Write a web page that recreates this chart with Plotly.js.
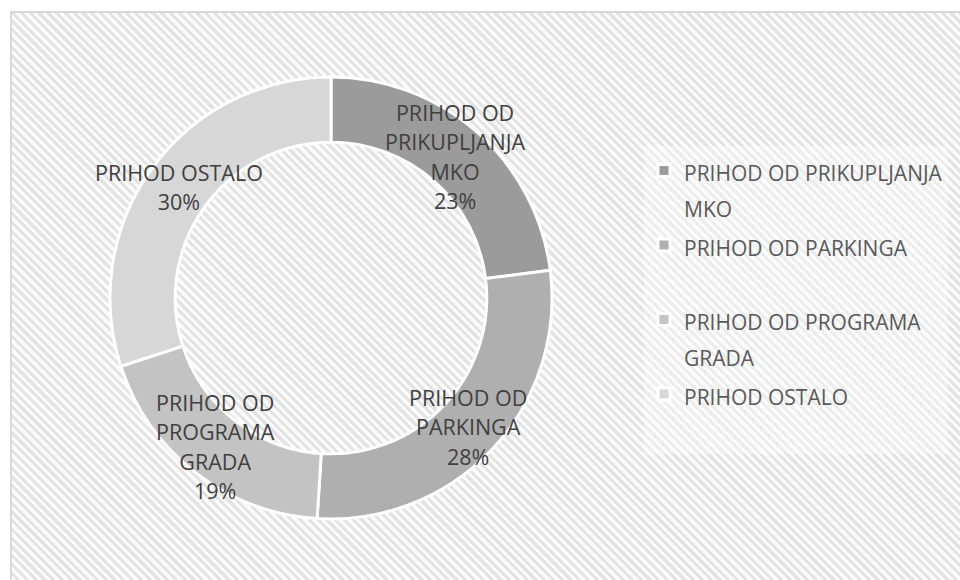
<!DOCTYPE html>
<html>
<head>
<meta charset="utf-8">
<script src="https://cdn.plot.ly/plotly-3.0.1.min.js"></script>
<style>
  html, body { margin: 0; padding: 0; background: #ffffff; }
  #frame {
    position: absolute; left: 10px; top: 11px; width: 948px; height: 567px;
    border-left: 2px solid #d9d9d9; border-top: 2px solid #d9d9d9;
    background: repeating-linear-gradient(45deg, #fbfbfb 0px, #fbfbfb 3.2px, #e3e3e3 3.2px, #e3e3e3 6.2px);
  }
  #chart { position: absolute; left: 0; top: 0; width: 960px; height: 580px; }
</style>
</head>
<body>
<div id="frame"></div>
<div id="chart"></div>
<script>
// ---- data ----
const categories = ['PRIHOD OD PRIKUPLJANJA MKO', 'PRIHOD OD PARKINGA', 'PRIHOD OD PROGRAMA GRADA', 'PRIHOD OSTALO'];
const values = [23, 28, 19, 30];
const legendLabels = ['PRIHOD OD PRIKUPLJANJA<br>MKO', 'PRIHOD OD PARKINGA<br> ', 'PRIHOD OD PROGRAMA<br>GRADA', 'PRIHOD OSTALO<br> '];
const sliceLabels = ['PRIHOD OD<br>PRIKUPLJANJA<br>MKO', 'PRIHOD OD<br>PARKINGA', 'PRIHOD OD<br>PROGRAMA<br>GRADA', 'PRIHOD OSTALO'];
const sliceColors = ['#9b9b9b', '#afafaf', '#c3c3c3', '#d7d7d7'];

// ---- layout constants ----
const W = 960, H = 580;
const cx = 331, cy = 298, R = 221, HOLE = 0.705;
const FONT = 'Open Sans, Liberation Sans, sans-serif';

const wrap = (t, px) => t.split('<br>').map(s => '<span style="font-size:' + px + 'px">' + s + '</span>').join('<br>');

const total = values.reduce((a, b) => a + b, 0);
let cum = 0;
const annotations = values.map((v, i) => {
  const mid = (cum + v / 2) / total;
  cum += v;
  const th = 2 * Math.PI * mid;
  const rm = R * (1 + HOLE) / 2;
  const px = cx + rm * Math.sin(th);
  const py = cy - rm * Math.cos(th);
  const pct = Math.round(v / total * 100) + '%';
  return {
    xref: 'paper', yref: 'paper', x: px / W, y: 1 - py / H,
    xanchor: 'center', yanchor: 'middle', showarrow: false,
    text: wrap(sliceLabels[i] + '<br>' + pct, 21.5),
    font: { family: FONT, size: 22.5, color: '#404040' },
    align: 'center'
  };
});

const trace = {
  type: 'pie',
  labels: legendLabels.map(l => wrap(l, 21)),
  values: values,
  hole: HOLE,
  sort: false,
  direction: 'clockwise',
  rotation: 0,
  textinfo: 'none',
  hoverinfo: 'label+percent',
  marker: { colors: sliceColors, line: { color: '#ffffff', width: 3 } },
  domain: { x: [(cx - R) / W, (cx + R) / W], y: [1 - (cy + R) / H, 1 - (cy - R) / H] }
};

const layout = {
  width: W, height: H,
  margin: { l: 0, r: 0, t: 0, b: 0 },
  paper_bgcolor: 'rgba(0,0,0,0)',
  plot_bgcolor: 'rgba(0,0,0,0)',
  showlegend: true,
  legend: {
    x: 644 / W, xanchor: 'left', y: 1 - 146 / H, yanchor: 'top',
    font: { family: FONT, size: 27.5, color: '#595959' },
    bgcolor: 'rgba(255,255,255,0.35)',
    valign: 'top'
  },
  annotations: annotations
};

Plotly.newPlot('chart', [trace], layout, { displayModeBar: false, staticPlot: true });
</script>
</body>
</html>
